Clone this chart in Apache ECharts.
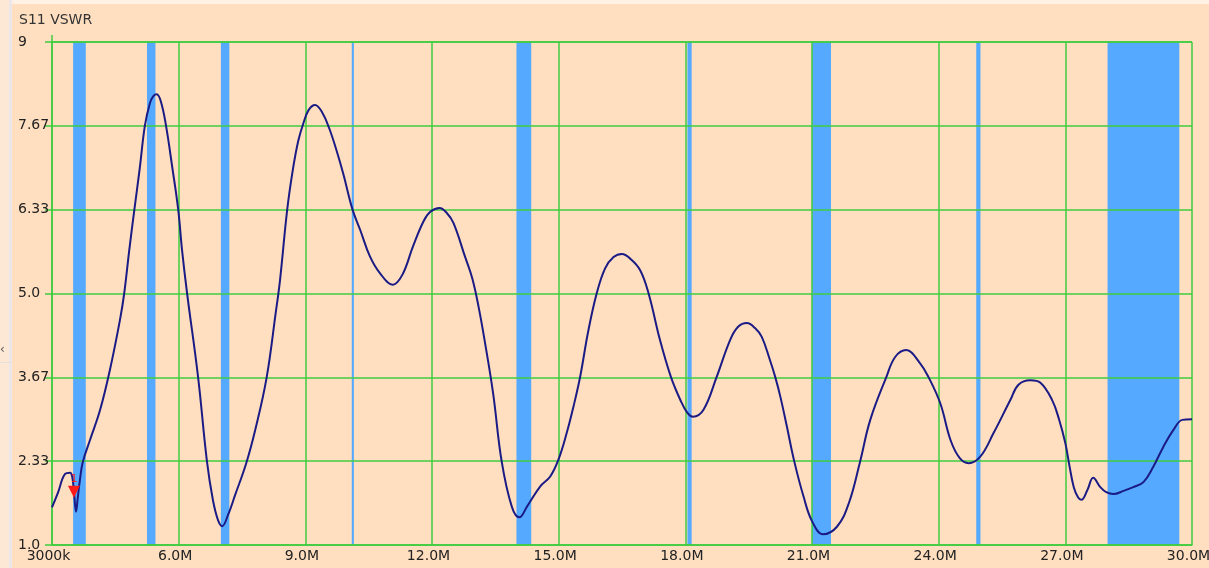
<!DOCTYPE html>
<html>
<head>
<meta charset="utf-8">
<title>S11 VSWR</title>
<script src="https://cdn.jsdelivr.net/npm/echarts@6/dist/echarts.min.js"></script>
<style>
  html, body { margin: 0; padding: 0; background: #FFDFC0; }
  #chart { width: 1209px; height: 568px; }
</style>
</head>
<body>
<div id="chart"></div>
<script>
// Sweep frequency (MHz) and measured VSWR
const freqMHz = [3.00, 3.14, 3.31, 3.43, 3.48, 3.52, 3.57, 3.61, 3.66, 3.73, 3.90, 4.14, 4.37, 4.61, 4.71, 4.83, 4.95, 5.08, 5.20, 5.32, 5.40, 5.48, 5.58, 5.70, 5.85, 5.99, 6.08, 6.20, 6.46, 6.67, 6.81, 6.93, 7.03, 7.17, 7.34, 7.60, 7.82, 8.08, 8.30, 8.40, 8.57, 8.70, 8.83, 8.95, 9.08, 9.23, 9.40, 9.57, 9.75, 9.90, 10.12, 10.30, 10.53, 10.77, 11.07, 11.30, 11.55, 11.80, 11.96, 12.18, 12.35, 12.51, 12.78, 12.95, 13.10, 13.26, 13.45, 13.65, 13.89, 14.07, 14.25, 14.56, 14.80, 14.99, 15.19, 15.35, 15.51, 15.70, 15.90, 16.10, 16.30, 16.50, 16.70, 16.93, 17.13, 17.40, 17.66, 17.88, 18.05, 18.18, 18.43, 18.74, 19.06, 19.25, 19.46, 19.65, 19.81, 20.00, 20.13, 20.25, 20.40, 20.58, 20.80, 21.00, 21.26, 21.59, 21.87, 22.14, 22.38, 22.76, 22.97, 23.23, 23.56, 23.76, 24.04, 24.28, 24.50, 24.71, 24.98, 25.30, 25.70, 25.89, 26.17, 26.41, 26.69, 26.85, 27.00, 27.10, 27.20, 27.30, 27.38, 27.52, 27.66, 27.83, 27.97, 28.14, 28.38, 28.61, 28.85, 29.08, 29.32, 29.56, 29.77, 30.00];
const vswr = [1.60, 1.83, 2.13, 2.15, 2.08, 1.85, 1.53, 1.75, 2.03, 2.32, 2.67, 3.15, 3.78, 4.58, 5.00, 5.69, 6.33, 7.00, 7.67, 8.03, 8.14, 8.17, 8.05, 7.67, 7.00, 6.33, 5.69, 5.00, 3.67, 2.33, 1.72, 1.40, 1.30, 1.48, 1.80, 2.30, 2.85, 3.65, 4.70, 5.21, 6.33, 6.95, 7.42, 7.70, 7.92, 8.00, 7.88, 7.62, 7.25, 6.90, 6.33, 6.01, 5.59, 5.32, 5.14, 5.30, 5.75, 6.15, 6.30, 6.36, 6.28, 6.12, 5.59, 5.25, 4.80, 4.20, 3.40, 2.33, 1.61, 1.44, 1.61, 1.93, 2.09, 2.35, 2.78, 3.20, 3.68, 4.40, 5.00, 5.40, 5.58, 5.63, 5.55, 5.37, 5.00, 4.26, 3.67, 3.31, 3.10, 3.04, 3.15, 3.67, 4.26, 4.47, 4.53, 4.45, 4.31, 3.95, 3.67, 3.36, 2.90, 2.33, 1.77, 1.38, 1.17, 1.29, 1.66, 2.33, 2.99, 3.67, 3.99, 4.10, 3.89, 3.67, 3.25, 2.67, 2.38, 2.30, 2.40, 2.78, 3.31, 3.55, 3.62, 3.58, 3.30, 3.00, 2.62, 2.25, 1.92, 1.76, 1.72, 1.87, 2.07, 1.92, 1.84, 1.81, 1.86, 1.92, 2.00, 2.24, 2.56, 2.83, 2.99, 3.00];

// Amateur band segments (MHz) shaded behind the trace
const bandStart = [3.5, 5.25, 7.0, 10.1, 14.0, 18.05, 21.0, 24.89, 28.0];
const bandEnd   = [3.8, 5.45, 7.2, 10.15, 14.35, 18.15, 21.45, 24.99, 29.7];

// Marker 1
const markerFreq = 3.52;
const markerVswr = 1.75;
const markerName = '1';

// Axis tick labels
const xTickLabels = ['3000k', '6.0M', '9.0M', '12.0M', '15.0M', '18.0M', '21.0M', '24.0M', '27.0M', '30.0M'];
const yTickLabels = ['1.0', '2.33', '3.67', '5.0', '6.33', '7.67', '9'];

const FONT = 'DejaVu Sans';
const GRID_GREEN = '#3FCC3F';
const BAND_BLUE = '#55AAFF';
const TRACE = '#1B1B86';

const X_MIN = 3, X_MAX = 30, X_STEP = 3;
const Y_MIN = 1, Y_MAX = 9, Y_STEP = 4 / 3;

const chart = echarts.init(document.getElementById('chart'), null, { renderer: 'canvas' });

const traceData = freqMHz.map((f, i) => [f, vswr[i]]);
const bandAreas = bandStart.map((s, i) => [{ xAxis: s }, { xAxis: bandEnd[i] }]);

chart.setOption({
  backgroundColor: '#FFDFC0',
  animation: false,
  title: {
    text: 'S11 VSWR',
    left: 14,
    top: 8,
    textStyle: { fontFamily: FONT, fontSize: 14, fontWeight: 'normal', color: '#333333' }
  },
  graphic: [
    { type: 'rect', left: 0, top: 0, shape: { width: 1209, height: 4 }, style: { fill: '#FFF1E4' }, silent: true },
    { type: 'rect', left: 0, top: 0, shape: { width: 9, height: 568 }, style: { fill: '#FDE8D6' }, silent: true },
    { type: 'rect', left: 9, top: 0, shape: { width: 3, height: 568 }, style: { fill: '#ECE6EA' }, silent: true },
    { type: 'line', shape: { x1: 0, y1: 362.5, x2: 11, y2: 362.5 }, style: { stroke: '#E6DDDD', lineWidth: 1 }, silent: true },
    { type: 'text', left: 0, top: 344, style: { text: '‹', fontFamily: FONT, fontSize: 12, fill: '#555555' }, silent: true },
    { type: 'line', shape: { x1: 52, y1: 35, x2: 52, y2: 42 }, style: { stroke: GRID_GREEN, lineWidth: 1.5 }, silent: true }
  ],
  grid: { left: 52, right: 17, top: 42, bottom: 23, containLabel: false, outerBoundsMode: 'none' },
  xAxis: {
    type: 'value',
    min: X_MIN,
    max: X_MAX,
    interval: X_STEP,
    z: 2,
    axisLine: { show: true, lineStyle: { color: GRID_GREEN, width: 1.5 } },
    axisTick: { show: false },
    splitLine: { show: true, lineStyle: { color: GRID_GREEN, width: 1.5 } },
    axisLabel: {
      fontFamily: FONT,
      fontSize: 14,
      color: '#222222',
      margin: 4,
      padding: [0, 7, 0, 0],
      formatter: (v) => xTickLabels[Math.round((v - X_MIN) / X_STEP)] || ''
    }
  },
  yAxis: {
    type: 'value',
    min: Y_MIN,
    max: Y_MAX,
    interval: Y_STEP,
    z: 2,
    axisLine: { show: true, lineStyle: { color: GRID_GREEN, width: 1.5 } },
    axisTick: { show: true, length: 7, lineStyle: { color: GRID_GREEN, width: 1.5 } },
    splitLine: { show: true, lineStyle: { color: GRID_GREEN, width: 1.5 } },
    axisLabel: {
      fontFamily: FONT,
      fontSize: 14,
      color: '#222222',
      align: 'left',
      margin: 34,
      formatter: (v) => yTickLabels[Math.round((v - Y_MIN) / Y_STEP)] || ''
    }
  },
  series: [
    {
      name: 'S11 VSWR',
      type: 'line',
      z: 3,
      data: traceData,
      smooth: 0.4,
      showSymbol: false,
      symbol: 'none',
      lineStyle: { color: TRACE, width: 2 },
      markArea: {
        silent: true,
        z: 1,
        itemStyle: { color: BAND_BLUE, opacity: 1 },
        data: bandAreas
      },
      markPoint: {
        silent: true,
        z: 6,
        symbol: 'triangle',
        symbolRotate: 180,
        symbolSize: [12, 12],
        symbolOffset: [0, -6],
        itemStyle: { color: '#FF1A1A' },
        label: {
          show: true,
          position: 'top',
          distance: 1,
          formatter: () => markerName,
          color: '#FF1A1A',
          fontFamily: FONT,
          fontSize: 11
        },
        data: [{ coord: [markerFreq, markerVswr] }]
      }
    }
  ]
});
</script>
</body>
</html>
